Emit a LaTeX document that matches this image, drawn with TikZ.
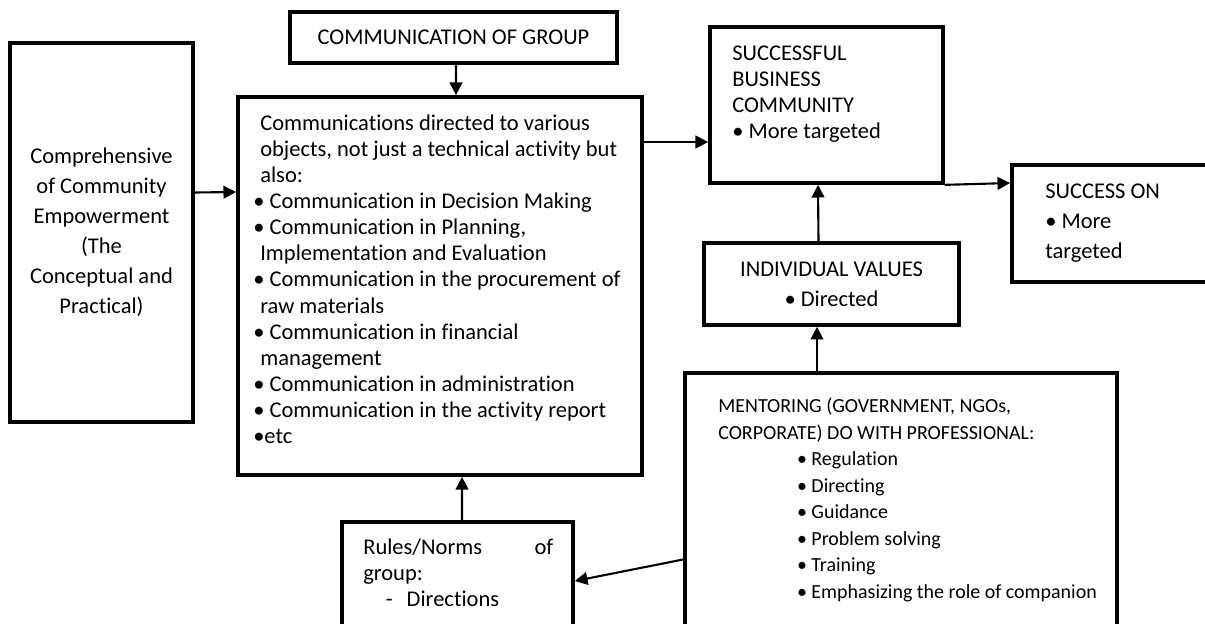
\documentclass[tikz,border=0pt]{standalone}
\usepackage{fontspec}
\setmainfont{Carlito}[Ligatures={NoCommon,NoRequired,NoContextual}]
\usetikzlibrary{positioning}
\usetikzlibrary{calc}
\usetikzlibrary{arrows.meta}

\begin{document}
\begin{tikzpicture}[x=0.025cm, y=-0.025cm,
			box/.style={rectangle, draw, line width=2.6pt, inner sep=0pt},
			txt/.style={inner sep=0pt, align=left, font=\fontsize{16}{18.5}\selectfont},
			ctxt/.style={align=center, font=\fontsize{16}{21.3}\selectfont},
			arrow/.style={-{Triangle[length=9pt, width=9pt]}, line width=1.5pt}
		]
			\useasboundingbox (0,0) rectangle (1205,624);

			% Boxes
			\node[box, ctxt, minimum width=4.575cm, minimum height=9.475cm] (compre) at (101.5,232.5)
				{Comprehensive\\ of Community\\ Empowerment\\ (The\\ Conceptual and\\ Practical)};
			\node[box, ctxt, minimum width=8.175cm, minimum height=1.275cm] (commgroup) at (453.5,37.5)
				{COMMUNICATION OF GROUP};
			\node[box, minimum width=10.1cm, minimum height=9.45cm] (main) at (440,286) {};
			\node[box, minimum width=5.825cm, minimum height=3.9cm] (business) at (826.5,105) {};
			\node[box, minimum width=4.95cm, minimum height=2.925cm] (success) at (1111,223.5) {};
			\node[box, ctxt, minimum width=6.375cm, minimum height=2.05cm] (values) at (831.5,284)
				{INDIVIDUAL VALUES\\ • Directed};
			\node[box, minimum width=10.8cm, minimum height=6.675cm] (mentoring) at (901,506.5) {};
			\node[box, minimum width=5.775cm, minimum height=2.95cm] (rules) at (457.5,581) {};

			% Texts
			\node[txt, anchor=north west] (maintext) at (253,115) {%
				\hspace*{5pt}Communications directed to various\\
				\hspace*{5pt}objects, not just a technical activity but\\
				\hspace*{5pt}also:\\
				• Communication in Decision Making\\
				• Communication in Planning,\\
				\hspace*{5pt}Implementation and Evaluation\\
				• Communication in the procurement of\\
				\hspace*{5pt}raw materials\\
				• Communication in financial\\
				\hspace*{5pt}management\\
				• Communication in administration\\
				• Communication in the activity report\\
				•etc};
			\node[txt, anchor=north west] (businesstext) at (732,46) {%
				SUCCESSFUL\\ BUSINESS\\ COMMUNITY\\ • More targeted};
			\node[txt, anchor=north west, font=\fontsize{16}{21.3}\selectfont] (successtext) at (1045,184) {%
				SUCCESS ON\\ • More\\ targeted};
			\node[txt, anchor=north west, font=\fontsize{14.2}{18.85}\selectfont] (mentoringtext) at (718,398) {%
				MENTORING (GOVERNMENT, NGOs,\\
				CORPORATE) DO WITH PROFESSIONAL:\\
				\hspace*{56pt}• Regulation\\
				\hspace*{56pt}• Directing\\
				\hspace*{56pt}• Guidance\\
				\hspace*{56pt}• Problem solving\\
				\hspace*{56pt}• Training\\
				\hspace*{56pt}• Emphasizing the role of companion};
			\node[txt, anchor=north west, text width=4.75cm] (rulestext) at (363,539) {%
				Rules/Norms\hfill of\\
				group:\\
				\hspace*{16pt}-\hspace{10pt}Directions};

			% Arrows
			\draw[arrow] ([shift={(0,-40)}]compre.east) -- ([shift={(0,-94)}]main.west);
			\draw[arrow] ([shift={(2.5,0)}]commgroup.south) -- ([shift={(16,0)}]main.north);
			\draw[arrow] ([shift={(0,-144)}]main.east) -- ([shift={(0,37)}]business.west);
			\draw[arrow] (business.south east) -- ([shift={(0,-40.5)}]success.west);
			\draw[arrow] ([shift={(-13,0)}]values.north) -- ([shift={(-8.5,0)}]business.south);
			\draw[arrow] ([shift={(-84,0)}]mentoring.north) -- ([shift={(-14.5,0)}]values.south);
			\draw[arrow] ([shift={(4.5,0)}]rules.north) -- ([shift={(22,0)}]main.south);
			\draw[arrow] ([shift={(0,53)}]mentoring.west) -- (rules.east);
		\end{tikzpicture}
\end{document}
